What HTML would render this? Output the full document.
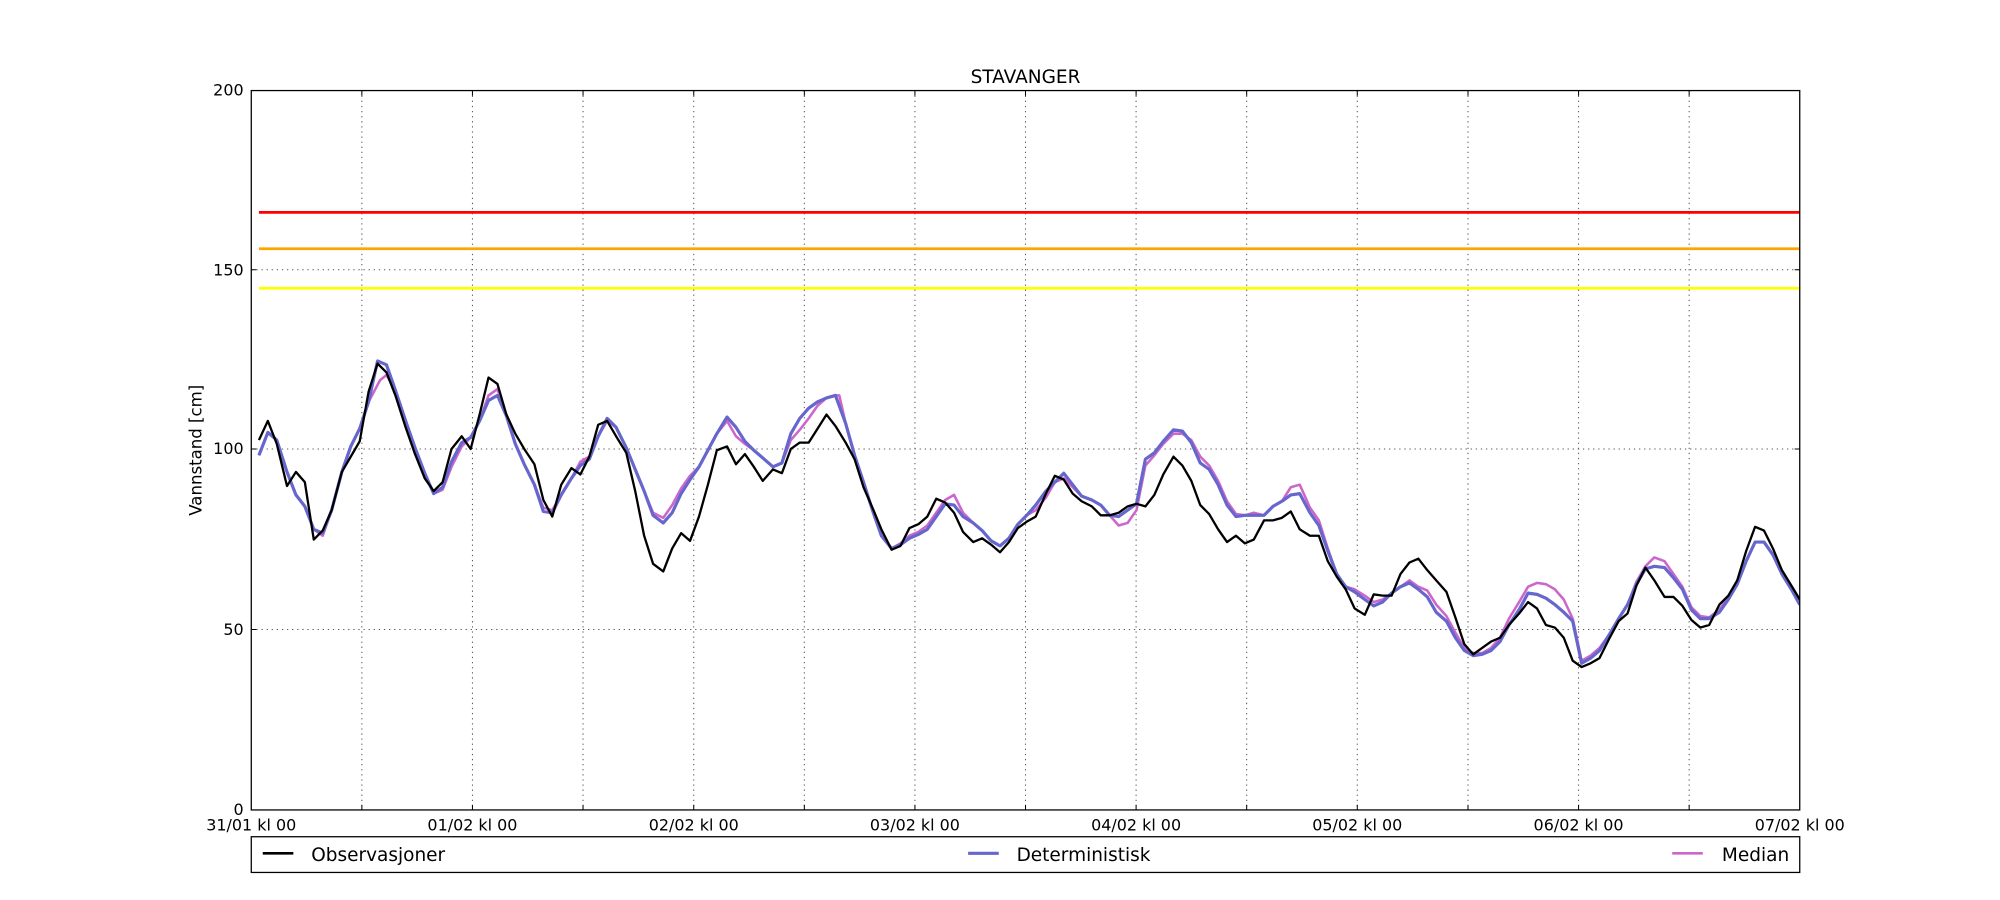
<!DOCTYPE html>
<html><head><meta charset="utf-8"><style>html,body{margin:0;padding:0;background:#fff}svg{display:block}</style></head>
<body>
<svg width="2000" height="900" viewBox="0 0 1568 705.6" xmlns="http://www.w3.org/2000/svg" font-family="DejaVu Sans, Liberation Sans, sans-serif">
<rect width="1568" height="705.6" fill="#fff"/>
<g stroke="#555" stroke-width="0.8" stroke-dasharray="1,3" fill="none">
<path d="M283.7 71V635M370.4 71V635M457.1 71V635M543.9 71V635M630.6 71V635M717.3 71V635M804 71V635M890.7 71V635M977.4 71V635M1064.1 71V635M1150.9 71V635M1237.6 71V635M1324.3 71V635"/>
<path d="M197 493.5H1411M197 352H1411M197 211.5H1411"/>
</g>
<line x1="203" y1="166.5" x2="1411" y2="166.5" stroke="#ff0000" stroke-width="2.2"/>
<line x1="203" y1="195" x2="1411" y2="195" stroke="#ffa500" stroke-width="2.2"/>
<line x1="203" y1="226" x2="1411" y2="226" stroke="#ffff00" stroke-width="2.2"/>
<clipPath id="c"><rect x="197" y="71" width="1214" height="564"/></clipPath>
<g clip-path="url(#c)" fill="none" stroke-linejoin="round">
<polyline stroke="#cc66cc" stroke-width="2" points="203,357 210,339 217,345 225,370 232,388 239,397 246,415 253,420 260,400 268,370 275,350 282,336 289,315 298,298 303,294 310,306 318,330 325,350 333,371 340,387 347,384 354,366 362,350 369,343 376,330 383,310 390,305 397,326 404,348 411,364 419,380 426,398 433,400 440,388 448,375 455,362 462,358 469,342 476,330 483,335 491,351 498,368 505,385 512,402 520,406 527,396 534,383 541,373 548,366 555,353 562,340 570,330 577,342 584,348 591,353 598,359 606,366 613,363 620,345 627,337 634,328 641,318 648,312 655,310 658,310 663,332 670,357 677,378 684,400 691,420 699,430 706,426 713,420 720,417 727,412 734,402 741,392 748,388 755,402 763,410 770,416 777,424 784,428 791,422 798,411 805,404 812,400 820,390 827,378 834,375 841,382 848,389 856,392 863,396 870,404 877,412 884,410 891,400 898,365 905,357 912,348 920,340 927,340 934,345 941,358 948,365 955,377 962,393 969,403 976,404 983,402 991,404 998,397 1005,393 1012,382 1019,380 1027,398 1034,408 1041,430 1048,450 1055,460 1062,462 1070,467 1077,472 1084,470 1091,465 1098,460 1105,455 1112,460 1119,463 1126,474 1134,483 1141,496 1148,508 1155,512 1162,512 1169,508 1176,500 1183,485 1191,472 1198,460 1205,457 1212,458 1219,462 1226,470 1233,485 1240,518 1247,514 1254,508 1262,497 1269,485 1276,474 1283,456 1290,444 1297,437 1305,440 1312,450 1319,460 1326,476 1333,483 1340,484 1348,478 1355,468 1362,456 1369,440 1376,425 1383,425 1390,435 1397,450 1405,463 1411,474"/>
<polyline stroke="#6666cc" stroke-width="2.5" points="203,357 210,339 217,345 225,370 232,388 239,397 246,415 253,418 260,400 268,370 275,350 282,336 289,315 296,283 303,286 310,306 318,330 325,350 333,371 340,387 347,382 354,362 362,347 369,343 376,330 383,314 390,310 397,326 404,348 411,364 419,380 426,401 433,402 440,388 448,375 455,365 462,360 469,342 476,328 483,335 491,351 498,368 505,385 512,404 520,410 527,402 534,387 541,376 548,366 555,353 562,340 570,327 577,335 584,346 591,353 598,359 606,366 613,363 620,340 627,328 634,320 641,315 648,312 655,310 663,332 670,357 677,378 684,400 691,420 699,430 706,427 713,422 720,419 727,415 734,405 741,395 748,396 755,405 763,410 770,416 777,424 784,428 791,422 798,411 805,404 812,396 820,385 827,378 834,371 841,380 848,389 856,392 863,396 870,404 877,405 884,400 891,395 898,360 905,355 912,346 920,337 927,338 934,347 941,363 948,368 955,380 962,396 969,405 976,404 983,404 991,404 998,397 1005,393 1012,388 1019,387 1027,402 1034,412 1041,432 1048,450 1055,460 1062,464 1070,470 1077,475 1084,472 1091,465 1098,460 1105,457 1112,462 1119,468 1126,480 1134,487 1141,500 1148,510 1155,514 1162,513 1169,510 1176,503 1183,490 1191,478 1198,465 1205,466 1212,469 1219,474 1226,480 1233,487 1240,520 1247,516 1254,510 1262,497 1269,485 1276,474 1283,458 1290,446 1297,444 1305,445 1312,453 1319,462 1326,478 1333,485 1340,485 1348,480 1355,470 1362,458 1369,440 1376,425 1383,425 1390,435 1397,450 1405,463 1411,474"/>
<polyline stroke="#000" stroke-width="1.8" points="203,345 210,330 217,348 225,381 232,370 239,378 246,423 253,416 260,400 268,370 275,358 282,346 289,307 296,285 303,292 310,310 318,335 325,355 333,375 340,385 347,378 354,352 362,342 369,352 376,325 383,296 390,301 397,325 404,340 411,352 419,364 426,392 433,405 440,380 448,367 455,372 462,358 469,333 476,330 483,342 491,355 498,385 505,420 512,442 520,448 527,430 534,418 541,424 548,405 555,380 562,353 570,350 577,364 584,356 591,366 598,377 606,368 613,371 620,352 627,347 634,347 641,336 648,325 655,334 663,347 670,360 677,382 684,398 691,415 699,431 706,428 713,414 720,411 727,405 734,391 741,394 748,402 755,417 763,425 770,422 777,427 784,433 791,425 798,414 805,409 812,405 820,387 827,373 834,376 841,387 848,393 856,397 863,404 870,404 877,402 884,397 891,395 898,397 905,388 912,372 920,358 927,365 934,377 941,396 948,403 955,415 962,425 969,420 976,426 983,423 991,408 998,408 1005,406 1012,401 1019,415 1027,420 1034,420 1041,440 1048,452 1055,462 1062,477 1070,482 1077,466 1084,467 1091,467 1098,450 1105,441 1112,438 1119,447 1126,455 1134,464 1141,484 1148,505 1155,513 1162,508 1169,503 1176,500 1183,490 1191,481 1198,472 1205,477 1212,490 1219,492 1226,500 1233,518 1240,523 1247,520 1254,516 1262,500 1269,487 1276,481 1283,459 1290,445 1297,455 1305,468 1312,468 1319,475 1326,486 1333,492 1340,490 1348,474 1355,467 1362,455 1369,432 1376,413 1383,416 1390,430 1397,447 1405,460 1411,470"/>
</g>
<rect x="197" y="71" width="1214" height="564" fill="none" stroke="#000" stroke-width="1"/>
<g stroke="#000" stroke-width="0.8">
<path d="M197 493.5h4M197 352h4M197 211.5h4M1411 493.5h-4M1411 352h-4M1411 211.5h-4"/>
<path d="M283.7 635v-4M370.4 635v-4M457.1 635v-4M543.9 635v-4M630.6 635v-4M717.3 635v-4M804 635v-4M890.7 635v-4M977.4 635v-4M1064.1 635v-4M1150.9 635v-4M1237.6 635v-4M1324.3 635v-4"/>
<path d="M283.7 71v4M370.4 71v4M457.1 71v4M543.9 71v4M630.6 71v4M717.3 71v4M804 71v4M890.7 71v4M977.4 71v4M1064.1 71v4M1150.9 71v4M1237.6 71v4M1324.3 71v4"/>
</g>
<g font-size="12.5" fill="#000">
<g text-anchor="end"><text x="191" y="75">200</text><text x="191" y="216">150</text><text x="191" y="356">100</text><text x="191" y="498">50</text><text x="191" y="639">0</text></g>
<g text-anchor="middle"><text x="197" y="651">31/01 kl 00</text><text x="370.4" y="651">01/02 kl 00</text><text x="543.9" y="651">02/02 kl 00</text><text x="717.3" y="651">03/02 kl 00</text><text x="890.7" y="651">04/02 kl 00</text><text x="1064.1" y="651">05/02 kl 00</text><text x="1237.6" y="651">06/02 kl 00</text><text x="1411" y="651">07/02 kl 00</text></g>
<text x="804" y="65" text-anchor="middle" font-size="14.5">STAVANGER</text>
<text transform="translate(158,353) rotate(-90)" text-anchor="middle" font-size="13">Vannstand [cm]</text>
</g>
<rect x="197" y="656" width="1214" height="28" fill="#fff" stroke="#000" stroke-width="1"/>
<line x1="206" y1="669" x2="230" y2="669" stroke="#000" stroke-width="2"/>
<line x1="759" y1="669" x2="783" y2="669" stroke="#6666cc" stroke-width="2.5"/>
<line x1="1311" y1="669" x2="1335" y2="669" stroke="#cc66cc" stroke-width="2"/>
<g font-size="14.5" fill="#000"><text x="244" y="675">Observasjoner</text><text x="797" y="675">Deterministisk</text><text x="1350" y="675">Median</text></g>
</svg>
</body></html>
